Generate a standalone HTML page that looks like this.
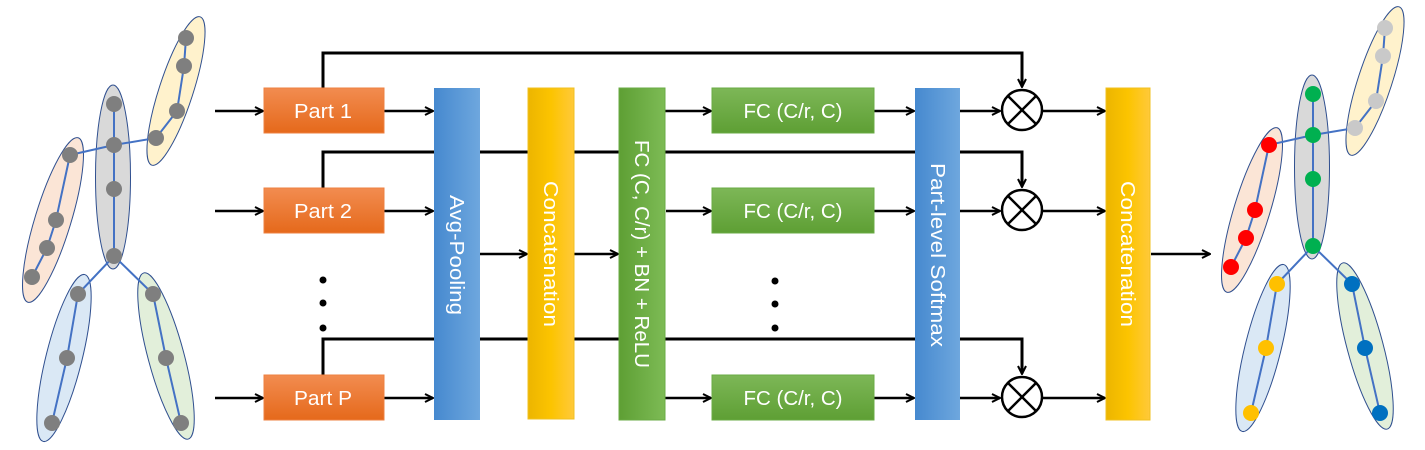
<!DOCTYPE html>
<html><head><meta charset="utf-8"><style>
html,body{margin:0;padding:0;background:#fff;}
svg{display:block;font-family:"Liberation Sans",sans-serif;}
</style></head><body>
<svg width="1425" height="450" viewBox="0 0 1425 450" xmlns="http://www.w3.org/2000/svg">
<defs>
<linearGradient id="og" x1="0" y1="0" x2="0" y2="1"><stop offset="0" stop-color="#f28c50"/><stop offset="1" stop-color="#e5691b"/></linearGradient>
<linearGradient id="bg" x1="0" y1="0" x2="1" y2="0"><stop offset="0" stop-color="#4689cf"/><stop offset="1" stop-color="#6ea7de"/></linearGradient>
<linearGradient id="yg" x1="0" y1="0" x2="1" y2="0"><stop offset="0" stop-color="#ecb500"/><stop offset="0.5" stop-color="#fcc400"/><stop offset="1" stop-color="#ffc93a"/></linearGradient>
<linearGradient id="gg" x1="0" y1="0" x2="1" y2="0"><stop offset="0" stop-color="#5e9f34"/><stop offset="1" stop-color="#7dbb55"/></linearGradient>
<linearGradient id="gg2" x1="0" y1="0" x2="0" y2="1"><stop offset="0" stop-color="#7db757"/><stop offset="1" stop-color="#5e9f34"/></linearGradient>
<marker id="ah" viewBox="0 0 10 10" refX="9" refY="5" markerWidth="10" markerHeight="10" markerUnits="userSpaceOnUse" orient="auto"><path d="M1,1 L9,5 L1,9" fill="none" stroke="#000" stroke-width="2"/></marker>
<g id="skel">
<ellipse cx="113" cy="177" rx="17.5" ry="92" fill="#d9d9d9" stroke="#2f4f8f" stroke-width="1"/>
<ellipse cx="176" cy="91" rx="17" ry="78" transform="rotate(18 176 91)" fill="#fff2cc" stroke="#2f4f8f" stroke-width="1"/>
<ellipse cx="53" cy="220" rx="18" ry="86" transform="rotate(17 53 220)" fill="#fbe5d6" stroke="#2f4f8f" stroke-width="1"/>
<ellipse cx="64" cy="358" rx="18" ry="86" transform="rotate(14 64 358)" fill="#dae8f5" stroke="#2f4f8f" stroke-width="1"/>
<ellipse cx="166" cy="356" rx="18" ry="86" transform="rotate(-15 166 356)" fill="#e2efda" stroke="#2f4f8f" stroke-width="1"/>
<g stroke="#4472c4" stroke-width="2" fill="none">
<polyline points="114,104 114,256"/>
<polyline points="70,155 114,145 156,138 177,111 184,66 186,38"/>
<polyline points="70,155 56,220 47,248 32,277"/>
<polyline points="52,423 67,358 78,294 114,256 153,294 166,358 181,423"/>
</g>
</g>
</defs>

<use href="#skel"/>
<g fill="#7f7f7f">
<circle cx="114" cy="104" r="8"/><circle cx="114" cy="145" r="8"/><circle cx="114" cy="189" r="8"/><circle cx="114" cy="256" r="8"/>
<circle cx="186" cy="38" r="8"/><circle cx="184" cy="66" r="8"/><circle cx="177" cy="111" r="8"/><circle cx="156" cy="138" r="8"/>
<circle cx="70" cy="155" r="8"/><circle cx="56" cy="220" r="8"/><circle cx="47" cy="248" r="8"/><circle cx="32" cy="277" r="8"/>
<circle cx="78" cy="294" r="8"/><circle cx="67" cy="358" r="8"/><circle cx="52" cy="423" r="8"/>
<circle cx="153" cy="294" r="8"/><circle cx="166" cy="358" r="8"/><circle cx="181" cy="423" r="8"/>
</g>

<g transform="translate(1199,-10)">
<use href="#skel"/>
<g fill="#00b050"><circle cx="114" cy="104" r="8"/><circle cx="114" cy="145" r="8"/><circle cx="114" cy="189" r="8"/><circle cx="114" cy="256" r="8"/></g>
<g fill="#c9c9c9"><circle cx="186" cy="38" r="8"/><circle cx="184" cy="66" r="8"/><circle cx="177" cy="111" r="8"/><circle cx="156" cy="138" r="8"/></g>
<g fill="#ff0000"><circle cx="70" cy="155" r="8"/><circle cx="56" cy="220" r="8"/><circle cx="47" cy="248" r="8"/><circle cx="32" cy="277" r="8"/></g>
<g fill="#ffc000"><circle cx="78" cy="294" r="8"/><circle cx="67" cy="358" r="8"/><circle cx="52" cy="423" r="8"/></g>
<g fill="#0070c0"><circle cx="153" cy="294" r="8"/><circle cx="166" cy="358" r="8"/><circle cx="181" cy="423" r="8"/></g>
</g>

<g stroke="#000" stroke-width="3" fill="none">
<polyline points="323,88 323,53 1022,53 1022,86"/>
<polyline points="323,188 323,152 1022,152 1022,186"/>
<polyline points="323,375 323,339 1022,339 1022,373"/>
</g>
<g stroke="#000" stroke-width="2.5" fill="none">
<line x1="1022" y1="70" x2="1022" y2="87" marker-end="url(#ah)"/>
<line x1="1022" y1="170" x2="1022" y2="187" marker-end="url(#ah)"/>
<line x1="1022" y1="357" x2="1022" y2="374" marker-end="url(#ah)"/>
</g>

<g stroke="#000" stroke-width="2.5" marker-end="url(#ah)">
<line x1="215" y1="111" x2="263" y2="111"/><line x1="215" y1="211" x2="263" y2="211"/><line x1="215" y1="398" x2="263" y2="398"/>
<line x1="384" y1="111" x2="433" y2="111"/><line x1="384" y1="211" x2="433" y2="211"/><line x1="384" y1="398" x2="433" y2="398"/>
<line x1="480" y1="254" x2="527" y2="254"/><line x1="574" y1="254" x2="618" y2="254"/>
<line x1="665" y1="111" x2="711" y2="111"/><line x1="666" y1="211" x2="711" y2="211"/><line x1="665" y1="398" x2="711" y2="398"/>
<line x1="874" y1="111" x2="914" y2="111"/><line x1="874" y1="211" x2="914" y2="211"/><line x1="874" y1="398" x2="914" y2="398"/>
<line x1="960" y1="111" x2="1000" y2="111"/><line x1="960" y1="211" x2="1000" y2="211"/><line x1="960" y1="398" x2="1000" y2="398"/>
<line x1="1043" y1="111" x2="1105" y2="111"/><line x1="1043" y1="211" x2="1105" y2="211"/><line x1="1043" y1="398" x2="1105" y2="398"/>
<line x1="1151" y1="254" x2="1210" y2="254"/>
</g>

<g fill="url(#og)" stroke="#ee8040" stroke-width="1">
<rect x="264" y="88" width="120" height="45"/><rect x="264" y="188" width="120" height="45"/><rect x="264" y="375" width="120" height="45"/>
</g>
<g fill="#fff" font-size="20" text-anchor="middle">
<text x="323" y="118" textLength="58" lengthAdjust="spacingAndGlyphs">Part 1</text>
<text x="323" y="218" textLength="58" lengthAdjust="spacingAndGlyphs">Part 2</text>
<text x="323" y="405" textLength="58" lengthAdjust="spacingAndGlyphs">Part P</text>
</g>

<rect x="434" y="88" width="46" height="332" fill="url(#bg)"/>
<rect x="528" y="88" width="46" height="331" fill="url(#yg)" stroke="#f0c020" stroke-width="1"/>
<rect x="619" y="88" width="46" height="332" fill="url(#gg)" stroke="#6aab44" stroke-width="1"/>
<rect x="915" y="88" width="45" height="332" fill="url(#bg)"/>
<rect x="1106" y="88" width="44" height="332" fill="url(#yg)" stroke="#f0c020" stroke-width="1"/>
<g fill="#fff" font-size="20" text-anchor="middle">
<text transform="translate(450,255) rotate(90)" textLength="120" lengthAdjust="spacingAndGlyphs">Avg-Pooling</text>
<text transform="translate(544,254) rotate(90)" textLength="146" lengthAdjust="spacingAndGlyphs">Concatenation</text>
<text transform="translate(635,254) rotate(90)" textLength="228" lengthAdjust="spacingAndGlyphs">FC (C, C/r) + BN + ReLU</text>
<text transform="translate(931,255) rotate(90)" textLength="184" lengthAdjust="spacingAndGlyphs">Part-level Softmax</text>
<text transform="translate(1121,254) rotate(90)" textLength="146" lengthAdjust="spacingAndGlyphs">Concatenation</text>
</g>

<g fill="url(#gg2)" stroke="#6aab44" stroke-width="1">
<rect x="712" y="88" width="162" height="45"/><rect x="712" y="188" width="162" height="45"/><rect x="712" y="375" width="162" height="45"/>
</g>
<g fill="#fff" font-size="20" text-anchor="middle">
<text x="793" y="118" textLength="99" lengthAdjust="spacingAndGlyphs">FC (C/r, C)</text>
<text x="793" y="218" textLength="99" lengthAdjust="spacingAndGlyphs">FC (C/r, C)</text>
<text x="793" y="405" textLength="99" lengthAdjust="spacingAndGlyphs">FC (C/r, C)</text>
</g>

<g fill="#000">
<circle cx="323" cy="280" r="3.5"/><circle cx="323" cy="303" r="3.5"/><circle cx="323" cy="328" r="3.5"/>
<circle cx="775" cy="281" r="3.5"/><circle cx="775" cy="304" r="3.5"/><circle cx="775" cy="328" r="3.5"/>
</g>

<g stroke="#000" stroke-width="2.5" fill="#fff">
<g transform="translate(1022,110)"><circle r="20"/><line x1="-14" y1="-14" x2="14" y2="14"/><line x1="14" y1="-14" x2="-14" y2="14"/></g>
<g transform="translate(1022,210)"><circle r="20"/><line x1="-14" y1="-14" x2="14" y2="14"/><line x1="14" y1="-14" x2="-14" y2="14"/></g>
<g transform="translate(1022,397)"><circle r="20"/><line x1="-14" y1="-14" x2="14" y2="14"/><line x1="14" y1="-14" x2="-14" y2="14"/></g>
</g>
</svg>
</body></html>
